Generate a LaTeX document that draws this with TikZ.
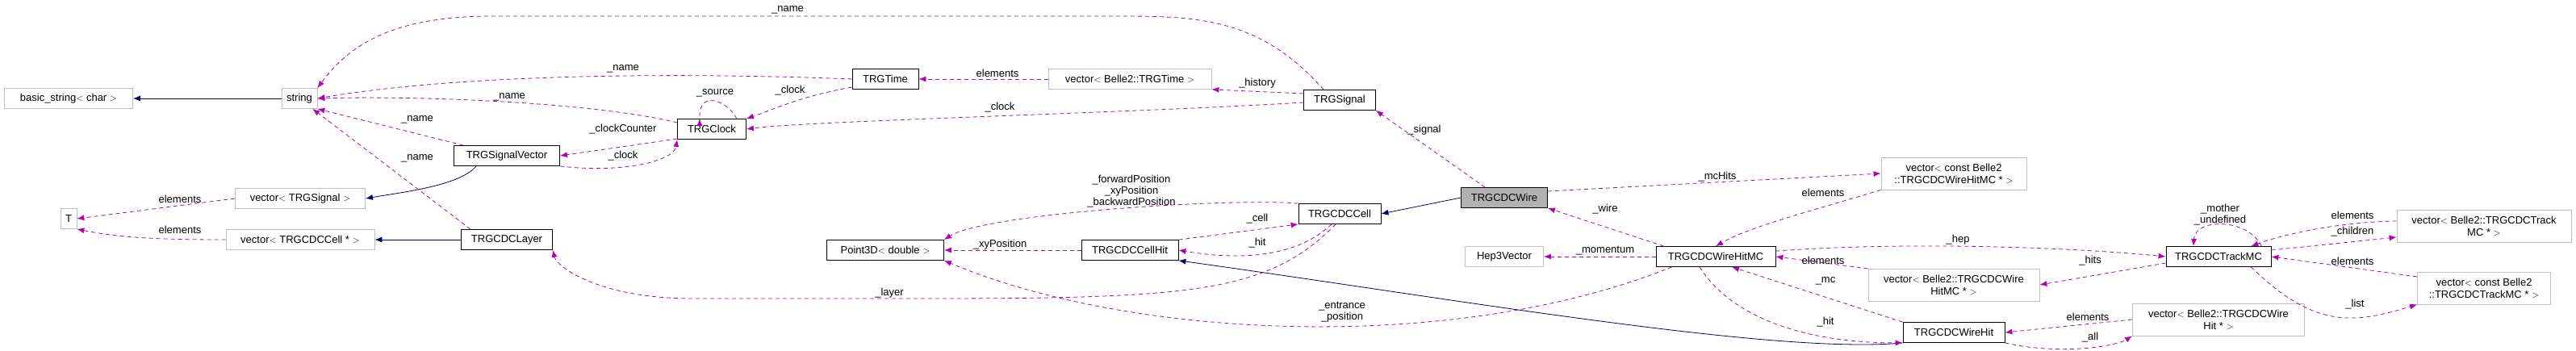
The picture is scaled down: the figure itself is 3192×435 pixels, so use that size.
\documentclass[tikz,border=0pt]{standalone}
\usepackage{fontspec}
\setmainfont{Liberation Sans}
\usetikzlibrary{arrows.meta}
\tikzset{
  cls/.style={draw=black, thick, fill=white, minimum height=25pt, inner xsep=6pt, font=\fontsize{13}{15}\selectfont},
  ext/.style={draw=black!25, thick, fill=white, minimum height=25pt, inner xsep=6pt, font=\fontsize{13}{15}\selectfont},
  ext2/.style={ext, align=center, minimum height=40pt},
  sel/.style={cls, fill=black!30},
  uses/.style={draw=violet!60!magenta, dashed, dash pattern=on 5pt off 4pt, thick, -{Latex[length=9pt,width=7pt]}},
  inherit/.style={draw=blue!40!black, thick, -{Latex[length=9pt,width=7pt]}},
  lbl/.style={font=\fontsize{13}{14}\selectfont, align=center, inner sep=1pt}
}
\begin{document}
\begin{tikzpicture}[x=1pt,y=-1pt]
\useasboundingbox (0,0) rectangle (3192,435);
% nodes
\node[ext, minimum width=159pt] (bstr) at (85,122) {basic\_string$<$ char $>$};
\node[ext] (str) at (371,122) {string};
\node[ext] (T) at (85,271) {T};
\node[ext, minimum width=161pt] (vsig) at (372,246) {vector$<$ TRGSignal $>$};
\node[ext, minimum width=184pt] (vcell) at (372,297) {vector$<$ TRGCDCCell * $>$};
\node[cls, minimum width=131pt] (sigvec) at (628,193) {TRGSignalVector};
\node[cls, minimum width=113pt] (layer) at (628,297) {TRGCDCLayer};
\node[cls, minimum width=85pt] (clock) at (882,160) {TRGClock};
\node[cls, minimum width=82pt] (time) at (1097,98) {TRGTime};
\node[ext, minimum width=202pt] (vtime) at (1400,98) {vector$<$ Belle2::TRGTime $>$};
\node[cls, minimum width=89pt] (signal) at (1660,124) {TRGSignal};
\node[sel, minimum width=107pt] (wire) at (1864,245) {TRGCDCWire};
\node[cls, minimum width=102pt] (cell) at (1660,265) {TRGCDCCell};
\node[cls, minimum width=145pt] (point) at (1097,310) {Point3D$<$ double $>$};
\node[cls, minimum width=120pt] (cellhit) at (1400,310) {TRGCDCCellHit};
\node[ext, minimum width=97pt] (hep) at (1864,318) {Hep3Vector};
\node[cls, minimum width=148pt] (whmc) at (2126,318) {TRGCDCWireHitMC};
\node[ext2, minimum width=180pt] (vcwhmc) at (2421,215) {vector$<$ const Belle2\\::TRGCDCWireHitMC * $>$};
\node[cls, minimum width=130pt] (track) at (2749,318) {TRGCDCTrackMC};
\node[ext2, minimum width=216pt] (vtrack) at (3078,280) {vector$<$ Belle2::TRGCDCTrack\\MC * $>$};
\node[ext2, minimum width=212pt] (vwhmc) at (2421,353) {vector$<$ Belle2::TRGCDCWire\\HitMC * $>$};
\node[ext2, minimum width=165pt] (vctrack) at (3078,357) {vector$<$ const Belle2\\::TRGCDCTrackMC * $>$};
\node[cls, minimum width=126pt] (whit) at (2421,412) {TRGCDCWireHit};
\node[ext2, minimum width=213pt] (vwhit) at (2749,396) {vector$<$ Belle2::TRGCDCWire\\Hit * $>$};
% inheritance
\draw[inherit] (str) -- (bstr);
\draw[inherit] (sigvec.south west) ++(28,0) .. controls (570,230) and (500,238) .. (vsig.east);
\draw[inherit] (layer) -- (vcell);
\draw[inherit] (wire.west) -- (cell.east);
\draw[inherit] (whit.south west) .. controls (2200,440) and (1800,370) .. (cellhit.south east);
% usage
\draw[uses] (signal.north) ++(-20,0) .. controls (1560,20) and (1480,20) .. (1380,20) -- (610,20) .. controls (480,20) and (430,60) .. (str.north east);
\draw[uses] (time.west) .. controls (800,88) and (550,95) .. (str.east);
\draw[uses] (clock.west) ++(0,-8) .. controls (750,130) and (550,118) .. (str.east);
\draw[uses] (sigvec.north west) ++(12,0) -- (str.south east);
\draw[uses] (layer.north west) ++(12,0) -- ([xshift=-6pt]str.south east);
\draw[uses] (clock.north east) ++(-12,0) .. controls (902,125) and (865,110) .. (clock.north west -| 867,0) -- (867,147);
\draw[uses] (time.west) ++(0,10) .. controls (990,120) and (960,135) .. (clock.north east);
\draw[uses] (signal.west) ++(0,3) .. controls (1400,140) and (1000,150) .. (clock.east);
\draw[uses] (clock.west) ++(0,12) -- (sigvec.east);
\draw[uses] (sigvec.south east) .. controls (770,215) and (835,200) .. (clock.south west);
\draw[uses] (vsig.west) -- (T.east);
\draw[uses] (vcell.west) .. controls (200,297) and (150,295) .. (T.south east);
\draw[uses] (vtime.west) -- (time.east);
\draw[uses] (signal.west) ++(0,-8) -- (vtime.south east);
\draw[uses] (wire.north west) ++(30,0) -- (signal.south east);
\draw[uses] (cell.north west) .. controls (1520,245) and (1220,265) .. (point.north east);
\draw[uses] (cellhit.west) -- (point.east);
\draw[uses] (cellhit.north east) -- (cell.south west);
\draw[uses] (cell.south) ++(-10,0) .. controls (1600,325) and (1520,320) .. (cellhit.east);
\draw[uses] (cell.south) ++(-5,0) .. controls (1560,375) and (1450,370) .. (1000,370) -- (860,370) .. controls (740,370) and (690,330) .. (layer.south east);
\draw[uses] (whmc.south west) ++(20,0) .. controls (1800,440) and (1400,420) .. (point.south east);
\draw[uses] (whmc.north west) ++(10,0) -- (wire.south east);
\draw[uses] (whmc.west) -- (hep.east);
\draw[uses] (wire.east) ++(0,-8) -- (vcwhmc.west);
\draw[uses] (vcwhmc.south west) .. controls (2250,260) and (2170,280) .. (whmc.north);
\draw[uses] (whmc.north east) ++(0,6) .. controls (2350,300) and (2550,305) .. (track.west);
\draw[uses] (track.west) ++(0,8) -- (vwhmc.east);
\draw[uses] (vwhmc.west) ++(0,-20) -- (whmc.east);
\draw[uses] (whit.north west) -- ([xshift=20pt]whmc.south);
\draw[uses] ([xshift=-20pt]whmc.south) .. controls (2150,400) and (2250,425) .. (whit.south west);
\draw[uses] (track.north east) ++(-12,0) .. controls (2785,270) and (2720,270) .. (2718,305);
\draw[uses] (vtrack.west) ++(0,-6) .. controls (2900,275) and (2830,290) .. ([xshift=-25pt]track.north east);
\draw[uses] (track.east) ++(0,-8) -- (vtrack.west |- 0,294);
\draw[uses] (vctrack.west) ++(0,-14) -- (track.east);
\draw[uses] (track.south east) ++(-25,0) .. controls (2870,410) and (2920,400) .. (vctrack.south west);
\draw[uses] (vwhit.west) -- (whit.east);
\draw[uses] (whit.south east) .. controls (2550,440) and (2620,430) .. (vwhit.south west);
% labels
\node[lbl] at (976,12) {\_name};
\node[lbl] at (772,85) {\_name};
\node[lbl] at (631,120) {\_name};
\node[lbl] at (517,148) {\_name};
\node[lbl] at (517,196) {\_name};
\node[lbl] at (886,115) {\_source};
\node[lbl] at (979,112) {\_clock};
\node[lbl] at (772,160) {\_clockCounter};
\node[lbl] at (772,193) {\_clock};
\node[lbl] at (223,247) {elements};
\node[lbl] at (223,285) {elements};
\node[lbl] at (1102,363) {\_layer};
\node[lbl] at (1236,91) {elements};
\node[lbl] at (1558,103) {\_history};
\node[lbl] at (1239,133) {\_clock};
\node[lbl] at (1765,161) {\_signal};
\node[lbl] at (1402,237) {\_forwardPosition\\\_xyPosition\\\_backwardPosition};
\node[lbl] at (1558,271) {\_cell};
\node[lbl] at (1239,303) {\_xyPosition};
\node[lbl] at (1558,301) {\_hit};
\node[lbl] at (1663,387) {\_entrance\\\_position};
\node[lbl] at (1989,259) {\_wire};
\node[lbl] at (1989,311) {\_momentum};
\node[lbl] at (2128,219) {\_mcHits};
\node[lbl] at (2259,239) {elements};
\node[lbl] at (2426,297) {\_hep};
\node[lbl] at (2259,323) {elements};
\node[lbl] at (2590,323) {\_hits};
\node[lbl] at (2262,348) {\_mc};
\node[lbl] at (2262,399) {\_hit};
\node[lbl] at (2587,393) {elements};
\node[lbl] at (2590,418) {\_all};
\node[lbl] at (2751,266) {\_mother\\\_undefined};
\node[lbl] at (2915,267) {elements};
\node[lbl] at (2915,287) {\_children};
\node[lbl] at (2915,324) {elements};
\node[lbl] at (2918,377) {\_list};
\end{tikzpicture}
\end{document}
